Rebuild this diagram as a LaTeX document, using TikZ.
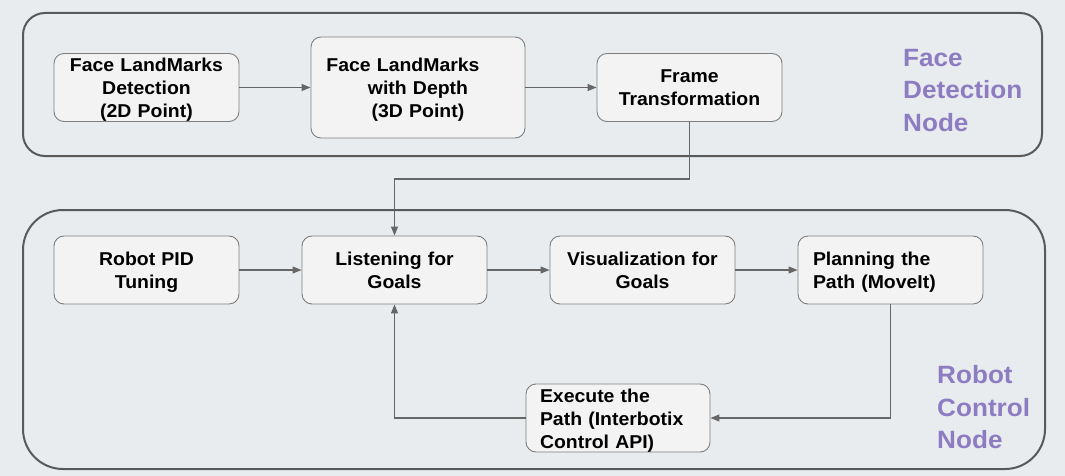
\documentclass[tikz,border=0pt]{standalone}
\usepackage{fontspec}
\setmainfont{Liberation Sans}[FakeStretch=1.045]
\usetikzlibrary{arrows.meta}
\definecolor{bgcol}{HTML}{E9ECEF}
\definecolor{boxfill}{HTML}{F3F3F3}
\definecolor{boxline}{HTML}{7F7F7F}
\definecolor{contline}{HTML}{595959}
\definecolor{conncol}{HTML}{666666}
\definecolor{labcol}{HTML}{8E7CC3}
\begin{document}
\begin{tikzpicture}[x=1pt,y=-1pt,
  container/.style={draw=contline, line width=2pt},
  stepbox/.style={draw=boxline, fill=boxfill, line width=0.9pt, rounded corners=10pt,
    minimum width=185pt, minimum height=68pt, inner sep=0pt, text width=175pt,
    font=\fontsize{18.6}{23}\selectfont\bfseries, align=center, text=black,
    execute at begin node={\rule{0pt}{18pt}},
    execute at end node={\rule[-4pt]{0pt}{4pt}}},
  conn/.style={draw=conncol, line width=1.1pt, -{Triangle[length=9pt,width=7pt]}},
  nodelabel/.style={text=labcol, font=\fontsize{25}{32.5}\selectfont\bfseries,
    align=left, inner sep=0pt, anchor=north west},
]
\fill[bgcol] (0,0) rectangle (1065,476);
\useasboundingbox (0,0) rectangle (1065,476);

% group containers
\draw[container, rounded corners=22pt] (23,13) rectangle (1042,156);
\draw[container, rounded corners=40pt] (23,210) rectangle (1045,469);

% face detection node
\node[stepbox] (lmk2d) at (146.5,87.5) {Face LandMarks\\Detection\\(2D Point)};
\node[stepbox, minimum width=214pt, minimum height=101pt, text width=204pt] (lmk3d) at (418,87.5)
  {Face LandMarks\hspace*{30pt}\mbox{}\\with Depth\\(3D Point)};
\node[stepbox] (frame) at (689.5,87.5) {Frame\\Transformation};
\node[nodelabel] (facelab) at (903,49) {Face\\Detection\\Node};

% robot control node
\node[stepbox] (pid) at (146.5,270) {Robot PID\\Tuning};
\node[stepbox] (listen) at (394.5,270) {Listening for\\Goals};
\node[stepbox] (vis) at (642.5,270) {Visualization for\\Goals};
\node[stepbox, align=left, text width=155pt] (plan) at (890.5,270) {Planning the\\Path (MoveIt)};
\node[stepbox, align=left, text width=156pt, minimum width=184pt] (exec) at (618,418)
  {Execute the\\Path (Interbotix\\Control API)};
\node[nodelabel] (robotlab) at (937,365.5) {Robot\\Control\\Node};

% connectors
\draw[conn] (lmk2d) -- (lmk3d);
\draw[conn] (lmk3d) -- (frame);
\draw[conn] (frame.south) -- ++(0,57) -| (listen.north);
\draw[conn] (pid) -- (listen);
\draw[conn] (listen) -- (vis);
\draw[conn] (vis) -- (plan);
\draw[conn] (plan.south) |- (exec.east);
\draw[conn] (exec.west) -| (listen.south);
\end{tikzpicture}
\end{document}
